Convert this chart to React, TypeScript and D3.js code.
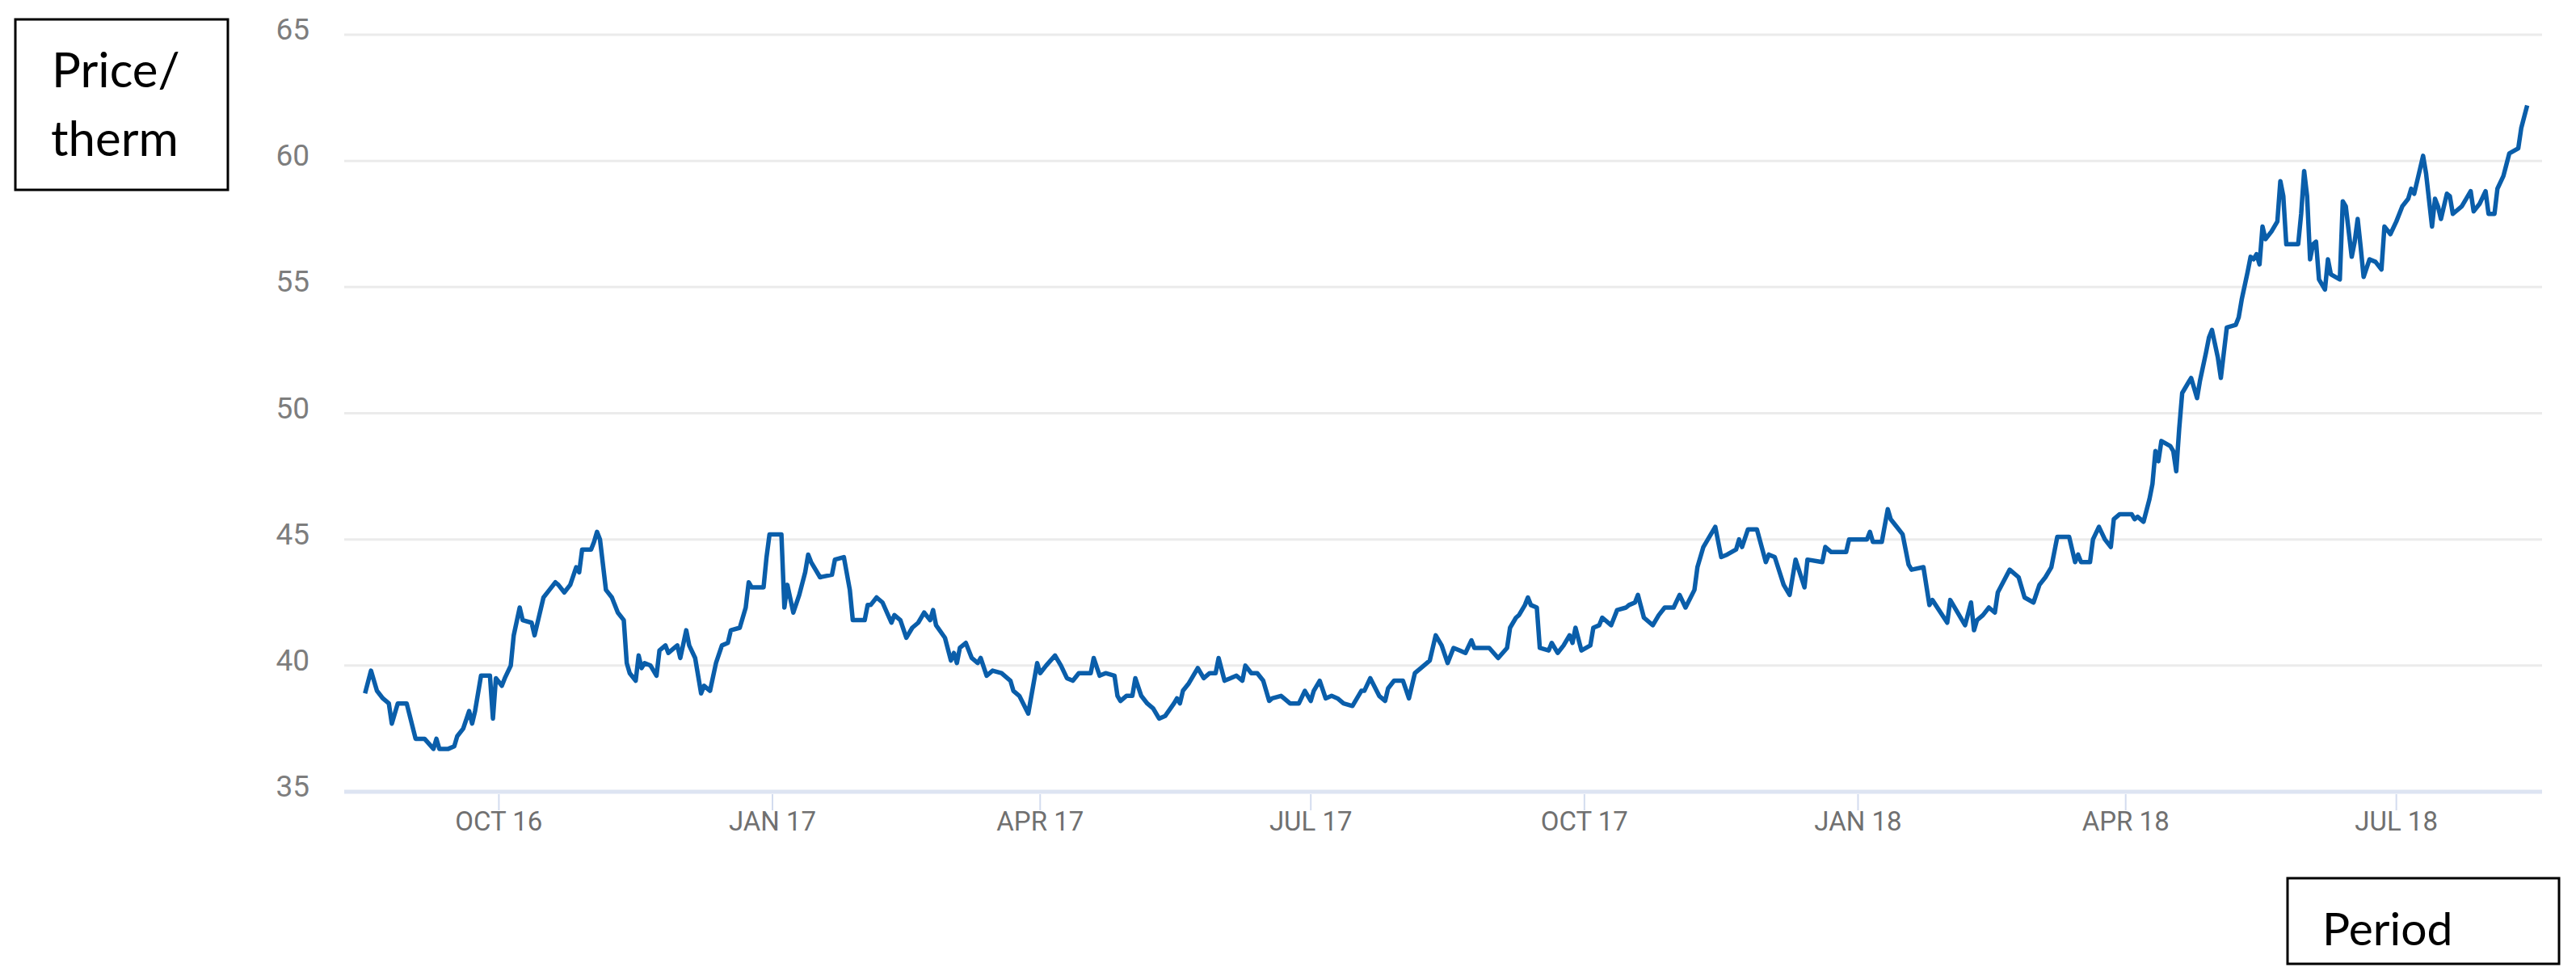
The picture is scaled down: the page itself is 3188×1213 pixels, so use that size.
import React from "react";
import * as d3 from "d3";

// day 0 of the series = 1 Aug 2016
const START = Date.UTC(2016, 7, 1);

// [days since START, price per therm]
const augToJan17: [number, number][] = [
  [16, 38.9], [18, 39.8], [20, 39.0], [22, 38.7], [24, 38.5], [25, 37.7], [27, 38.5], [30, 38.5],
  [33, 37.1], [36, 37.1], [39, 36.7], [40, 37.1], [41, 36.7], [44, 36.7], [46, 36.8], [47, 37.2],
  [49, 37.5], [51, 38.2], [52, 37.7], [53, 38.2], [55, 39.6], [58, 39.6], [59, 37.9], [60, 39.5],
  [62, 39.2], [63, 39.5], [65, 40.0], [66, 41.2], [68, 42.3], [69, 41.8], [72, 41.7], [73, 41.2],
  [76, 42.7], [78, 43.0], [80, 43.3], [81, 43.2], [83, 42.9], [85, 43.2], [87, 43.9], [88, 43.7],
  [89, 44.6], [92, 44.6], [93, 44.9], [94, 45.3], [95, 45.0], [97, 43.0], [99, 42.7], [101, 42.1],
  [103, 41.8], [104, 40.1], [105, 39.7], [107, 39.4], [108, 40.4], [109, 39.9], [110, 40.1], [112, 40.0],
  [114, 39.6], [115, 40.6], [117, 40.8], [118, 40.5], [120, 40.7], [121, 40.8], [122, 40.3], [124, 41.4],
  [125, 40.8], [127, 40.3], [129, 38.9], [130, 39.2], [132, 39.0], [134, 40.1], [136, 40.8], [138, 40.9],
  [139, 41.4], [142, 41.5], [144, 42.3], [145, 43.3], [146, 43.1], [150, 43.1], [151, 44.3], [152, 45.2],
  [156, 45.2], [157, 42.3], [158, 43.2], [160, 42.1],
];

const janToJun17: [number, number][] = [
  [162, 42.8], [164, 43.7], [165, 44.4], [166, 44.1], [169, 43.5], [173, 43.6], [174, 44.2], [177, 44.3],
  [179, 43.0], [180, 41.8], [184, 41.8], [185, 42.4], [186, 42.4], [188, 42.7], [190, 42.5], [193, 41.7],
  [194, 42.0], [196, 41.8], [198, 41.1], [200, 41.5], [202, 41.7], [204, 42.1], [206, 41.8], [207, 42.2],
  [208, 41.6], [211, 41.1], [213, 40.2], [214, 40.5], [215, 40.1], [216, 40.7], [218, 40.9], [220, 40.3],
  [222, 40.1], [223, 40.3], [225, 39.6], [227, 39.8], [230, 39.7], [233, 39.4], [234, 39.0], [236, 38.8],
  [239, 38.1], [242, 40.1], [243, 39.7], [245, 40.0], [248, 40.4], [250, 40.0], [252, 39.5], [254, 39.4],
  [256, 39.7], [260, 39.7], [261, 40.3], [263, 39.6], [265, 39.7], [268, 39.6], [269, 38.8], [270, 38.6],
  [272, 38.8], [274, 38.8], [275, 39.5], [277, 38.8], [279, 38.5], [281, 38.3], [283, 37.9], [285, 38.0],
  [288, 38.5], [289, 38.7], [290, 38.5], [291, 39.0], [293, 39.3], [296, 39.9], [298, 39.5], [300, 39.7],
  [302, 39.7], [303, 40.3], [305, 39.4], [307, 39.5],
];

const junToSep17: [number, number][] = [
  [309, 39.6], [311, 39.4], [312, 40.0], [314, 39.7], [316, 39.7], [318, 39.4], [320, 38.6], [321, 38.7],
  [324, 38.8], [325, 38.7], [327, 38.5], [330, 38.5], [332, 39.0], [334, 38.6], [335, 39.0], [337, 39.4],
  [339, 38.7], [341, 38.8], [343, 38.7], [345, 38.5], [348, 38.4], [351, 39.0], [352, 39.0], [354, 39.5],
  [357, 38.8], [359, 38.6], [360, 39.1], [362, 39.4], [365, 39.4], [367, 38.7], [369, 39.7], [372, 40.0],
  [374, 40.2], [376, 41.2], [378, 40.8], [380, 40.1], [382, 40.7], [384, 40.6], [386, 40.5], [388, 41.0],
  [389, 40.7], [394, 40.7], [397, 40.3], [400, 40.7], [401, 41.5], [403, 41.9], [404, 42.0], [406, 42.4],
  [407, 42.7], [408, 42.4], [410, 42.3], [411, 40.7], [414, 40.6], [415, 40.9], [417, 40.5], [419, 40.8],
  [421, 41.2], [422, 40.9], [423, 41.5], [425, 40.6], [428, 40.8], [429, 41.5], [431, 41.6], [432, 41.9],
  [435, 41.6], [437, 42.2], [440, 42.3], [441, 42.4], [443, 42.5], [444, 42.8], [446, 41.9], [449, 41.6],
  [451, 42.0],
];

const octToMar18: [number, number][] = [
  [453, 42.3], [456, 42.3], [458, 42.8], [460, 42.3], [463, 43.0], [464, 43.9], [466, 44.7], [470, 45.5],
  [472, 44.3], [474, 44.4], [477, 44.6], [478, 45.0], [479, 44.7], [481, 45.4], [484, 45.4], [487, 44.1],
  [488, 44.4], [490, 44.3], [493, 43.2], [495, 42.8], [497, 44.2], [500, 43.1], [501, 44.2], [506, 44.1],
  [507, 44.7], [509, 44.5], [514, 44.5], [515, 45.0], [521, 45.0], [522, 45.3], [523, 44.9], [526, 44.9],
  [528, 46.2], [529, 45.8], [531, 45.5], [533, 45.2], [535, 44.0], [536, 43.8], [540, 43.9], [542, 42.4],
  [543, 42.6], [548, 41.7], [549, 42.6], [554, 41.6], [556, 42.5], [557, 41.4], [558, 41.8], [560, 42.0],
  [562, 42.3], [564, 42.1], [565, 42.9], [569, 43.8], [572, 43.5], [574, 42.7], [577, 42.5], [579, 43.2],
  [581, 43.5], [583, 43.9], [585, 45.1], [589, 45.1], [591, 44.1], [592, 44.4], [593, 44.1], [596, 44.1],
];

const marToAug18: [number, number][] = [
  [597, 45.0], [599, 45.5], [601, 45.0], [603, 44.7], [604, 45.8], [606, 46.0], [610, 46.0], [611, 45.8],
  [612, 45.9], [614, 45.7], [616, 46.6], [617, 47.2], [618, 48.5], [619, 48.1], [620, 48.9], [623, 48.7],
  [624, 48.5], [625, 47.7], [626, 49.4], [627, 50.8], [629, 51.2], [630, 51.4], [632, 50.6], [633, 51.3],
  [635, 52.4], [636, 53.0], [637, 53.3], [639, 52.2], [640, 51.4], [641, 52.4], [642, 53.4], [645, 53.5],
  [646, 53.8], [647, 54.5], [649, 55.6], [650, 56.2], [651, 56.1], [652, 56.3], [653, 55.9], [654, 57.4],
  [655, 56.9], [657, 57.2], [659, 57.6], [660, 59.2], [661, 58.6], [662, 56.7], [666, 56.7], [667, 57.9],
  [668, 59.6], [669, 58.6], [670, 56.1], [671, 56.7], [672, 56.8], [673, 55.3], [675, 54.9], [676, 56.1],
  [677, 55.5], [680, 55.3], [681, 58.4], [682, 58.2], [684, 56.2], [685, 56.8], [686, 57.7], [687, 56.6],
  [688, 55.4], [690, 56.1], [692, 56.0], [694, 55.7], [695, 57.4], [697, 57.1], [699, 57.6], [701, 58.2],
  [703, 58.5], [704, 58.9], [705, 58.7], [707, 59.7], [708, 60.2], [709, 59.5], [711, 57.4], [712, 58.5],
  [713, 58.2], [714, 57.7], [716, 58.7], [717, 58.6], [718, 57.9], [721, 58.2], [724, 58.8], [725, 58.0],
  [727, 58.3], [729, 58.8], [730, 57.9], [732, 57.9], [733, 58.9], [735, 59.4], [737, 60.3], [740, 60.5],
  [741, 61.3], [743, 62.2],
];

const yTicks = [35, 40, 45, 50, 55, 60, 65];
const xTickDates = ["2016-10-01", "2017-01-01", "2017-04-01", "2017-07-01", "2017-10-01", "2018-01-01", "2018-04-01", "2018-07-01"];
const xTickLabels = ["OCT 16", "JAN 17", "APR 17", "JUL 17", "OCT 17", "JAN 18", "APR 18", "JUL 18"];

const W = 3188;
const H = 1213;

type Point = { date: Date; value: number };

const App = () => {
  const data: Point[] = [...augToJan17, ...janToJun17, ...junToSep17, ...octToMar18, ...marToAug18]
    .map(([d, v]) => ({ date: new Date(START + d * 864e5), value: v }));

  const x = d3.scaleUtc()
    .domain([new Date("2016-08-10"), new Date("2018-08-19")])
    .range([426, 3146]);
  const y = d3.scaleLinear().domain([35, 65]).range([980, 43]);

  const line = d3.line<Point>()
    .x(d => x(d.date))
    .y(d => y(d.value));

  const [x0, x1] = x.range();

  return (
    <svg width={W} height={H} style={{ position: "absolute", left: 0, top: 0, background: "#fff" }}>
      {/* horizontal gridlines */}
      {yTicks.filter(t => t !== 35).map(t => (
        <line key={t} x1={x0} x2={x1} y1={y(t)} y2={y(t)} stroke="#ebebeb" strokeWidth={3} />
      ))}
      {/* baseline */}
      <line x1={x0} x2={x1} y1={y(35)} y2={y(35)} stroke="#dde4f2" strokeWidth={5} />

      {/* y labels */}
      {yTicks.map(t => (
        <text key={t} x={383} y={y(t) + 6} textAnchor="end" fontFamily="Roboto" fontSize={37} fill="#7d7d7d">
          {t}
        </text>
      ))}

      {/* x ticks + labels */}
      {xTickDates.map((d, i) => {
        const xi = x(new Date(d));
        return (
          <g key={d}>
            <line x1={xi} x2={xi} y1={983} y2={1003} stroke="#d3dcef" strokeWidth={2} />
            <text x={xi} y={1028} textAnchor="middle" fontFamily="Roboto" fontSize={33} fill="#707070">
              {xTickLabels[i]}
            </text>
          </g>
        );
      })}

      {/* price line */}
      <path d={line(data) ?? ""} fill="none" stroke="#0a5eaa" strokeWidth={5.5} strokeLinejoin="round" />

      {/* axis title boxes */}
      <rect x={19} y={24} width={263} height={211} fill="none" stroke="#000" strokeWidth={3} />
      <text x={64} y={108} fontFamily="Lato" fontSize={60} fill="#000">Price/</text>
      <text x={63} y={193} fontFamily="Lato" fontSize={60} fill="#000">therm</text>

      <rect x={2831} y={1087} width={336} height={106} fill="none" stroke="#000" strokeWidth={3} />
      <text x={2874} y={1170} fontFamily="Lato" fontSize={57} fill="#000">Period</text>
    </svg>
  );
};

export default App;
